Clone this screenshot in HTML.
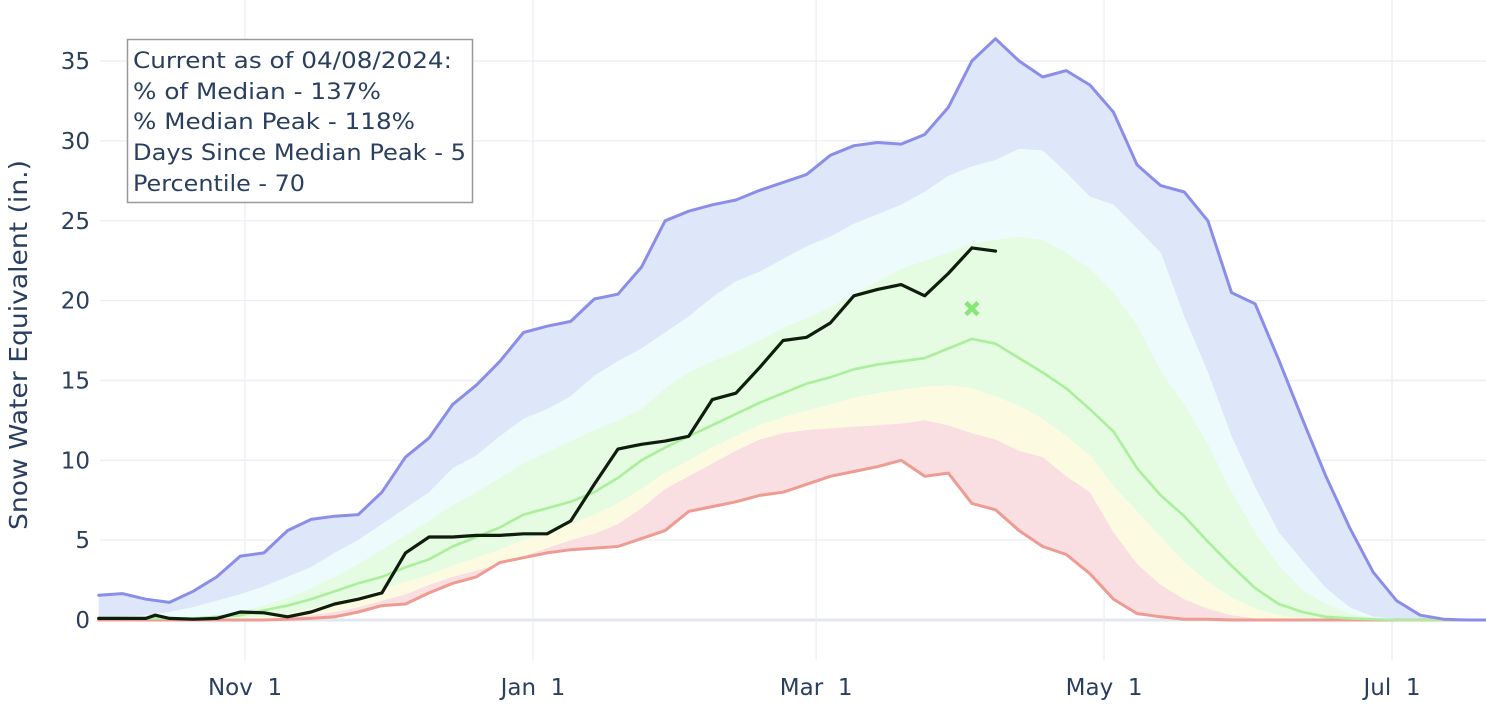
<!DOCTYPE html>
<html><head><meta charset="utf-8"><style>
html,body{margin:0;padding:0;background:#fff;}
svg{display:block;font-family:"DejaVu Sans","Liberation Sans",sans-serif;}
</style></head><body>
<svg id="chart" width="1486" height="714" viewBox="0 0 1486 714" xmlns="http://www.w3.org/2000/svg">
<g id="grid"></g>
<g id="bands"></g>
<g id="lines"></g>
<g id="axes"></g>
<text transform="translate(27,345) rotate(-90)" text-anchor="middle" font-size="25" fill="#2a3f5f" textLength="370" lengthAdjust="spacingAndGlyphs">Snow Water Equivalent (in.)</text>
<g>
<rect x="127.5" y="39.5" width="345" height="163" fill="#fff" fill-opacity="0.85" stroke="#999" stroke-width="1.5"/>
<g font-size="22" fill="#2a3f5f">
<text x="133" y="68" textLength="319" lengthAdjust="spacingAndGlyphs">Current as of 04/08/2024:</text>
<text x="133" y="99" textLength="248" lengthAdjust="spacingAndGlyphs">% of Median - 137%</text>
<text x="133" y="129" textLength="282" lengthAdjust="spacingAndGlyphs">% Median Peak - 118%</text>
<text x="133" y="160" textLength="333" lengthAdjust="spacingAndGlyphs">Days Since Median Peak - 5</text>
<text x="133" y="191" textLength="172" lengthAdjust="spacingAndGlyphs">Percentile - 70</text>
</g></g>
</svg>
<script>
const days=[0,5,10,15,20,25,30,35,40,45,50,55,60,65,70,75,80,85,90,95,100,105,110,115,120,125,130,135,140,145,150,155,160,165,170,175,180,185,190,195,200,205,210,215,220,225,230,235,240,245,250,255,260,265,270,275,280,285,290,295];
const maxVals=[1.55,1.65,1.3,1.1,1.8,2.7,4.0,4.2,5.6,6.3,6.5,6.6,8.0,10.2,11.4,13.5,14.7,16.2,18.0,18.4,18.7,20.1,20.4,22.1,25.0,25.6,26.0,26.3,26.9,27.4,27.9,29.1,29.7,29.9,29.8,30.4,32.1,35.0,36.4,35.0,34.0,34.4,33.5,31.8,28.5,27.2,26.8,25.0,20.5,19.8,16.3,12.6,9.0,5.8,3.0,1.2,0.3,0.05,0,0];
const p90Vals=[0.1,0.2,0.3,0.5,0.8,1.2,1.6,2.1,2.7,3.3,4.2,5.0,6.0,7.0,8.0,9.5,10.3,11.5,12.6,13.2,14.0,15.3,16.2,17.0,18.0,19.0,20.2,21.2,21.8,22.6,23.4,24.0,24.8,25.4,26.0,26.8,27.8,28.4,28.8,29.5,29.4,28.0,26.5,26.0,24.5,23.0,19.0,15.5,11.5,8.3,5.5,3.7,2.0,0.8,0.2,0.05,0,0,0,0];
const p70Vals=[0,0,0,0,0.1,0.3,0.5,0.9,1.4,2.0,2.7,3.5,4.4,5.3,6.2,7.2,8.0,8.9,9.8,10.5,11.2,11.9,12.5,13.2,14.5,15.5,16.2,16.8,17.5,18.3,18.9,19.6,20.4,21.2,22.0,22.5,23.0,23.6,23.8,24.0,23.8,23.0,22.0,20.5,18.5,15.6,13.5,11.0,8.0,5.5,3.4,1.9,1.0,0.4,0.1,0,0,0,0,0];
const medianVals=[0.1,0.1,0.1,0.1,0.1,0.2,0.3,0.6,0.9,1.3,1.8,2.3,2.7,3.3,3.8,4.6,5.2,5.8,6.6,7.0,7.4,8.0,8.9,10.0,10.8,11.5,12.2,12.9,13.6,14.2,14.8,15.2,15.7,16.0,16.2,16.4,17.0,17.6,17.3,16.4,15.5,14.5,13.2,11.8,9.5,7.8,6.5,4.9,3.4,2.0,1.0,0.5,0.2,0.1,0.05,0,0,0,0,0];
const p30Vals=[0,0,0,0,0,0,0.1,0.2,0.4,0.7,1.1,1.5,1.9,2.4,2.8,3.4,3.9,4.4,5.0,5.5,6.0,6.6,7.3,8.2,9.2,10.0,10.8,11.5,12.2,12.7,13.1,13.5,13.9,14.2,14.4,14.6,14.7,14.5,14.0,13.4,12.6,11.5,10.3,8.4,6.8,5.2,3.6,2.4,1.4,0.7,0.3,0.1,0,0,0,0,0,0,0,0];
const p10Vals=[0,0,0,0,0,0,0,0.05,0.15,0.3,0.5,0.8,1.2,1.6,2.2,2.7,3.1,3.5,4.0,4.5,5.0,5.4,6.0,7.0,8.2,9.0,9.8,10.6,11.3,11.7,11.9,12.0,12.1,12.2,12.3,12.5,12.2,11.7,11.3,10.6,10.2,9.0,8.0,5.5,3.5,2.2,1.3,0.7,0.3,0.1,0,0,0,0,0,0,0,0,0,0];
const minVals=[0,0,0,0,0,0,0,0,0.05,0.1,0.2,0.5,0.9,1.0,1.7,2.3,2.7,3.6,3.9,4.2,4.4,4.5,4.6,5.1,5.6,6.8,7.1,7.4,7.8,8.0,8.5,9.0,9.3,9.6,10.0,9.0,9.2,7.3,6.9,5.6,4.6,4.1,2.9,1.3,0.4,0.2,0.05,0.05,0,0,0,0,0,0,0,0,0,0,0,0];
const currentDays=[0,5,10,12,15,20,25,30,35,40,45,50,55,60,65,70,75,80,85,90,95,100,105,110,115,120,125,130,135,140,145,150,155,160,165,170,175,180,185,190];
const currentVals=[0.1,0.1,0.1,0.3,0.1,0.05,0.1,0.5,0.45,0.2,0.5,1.0,1.3,1.7,4.2,5.2,5.2,5.3,5.3,5.4,5.4,6.2,8.5,10.7,11.0,11.2,11.5,13.8,14.2,15.8,17.5,17.7,18.6,20.3,20.7,21.0,20.3,21.7,23.3,23.1];
const medianPeakDay=[185];
const medianPeakVal=[19.5];
const yTicks=[0,5,10,15,20,25,30,35];
const xTickDays=[31,92,152,213,274];
const xTickLabels=["Nov  1","Jan  1","Mar  1","May  1","Jul  1"];

const NS="http://www.w3.org/2000/svg";
const X0=98.7,XPD=4.72,Y0=620,YPU=15.97,PL=100,PR=1486;
function xs(d){return X0+d*XPD;}
function ys(v){return Y0-v*YPU;}
function mk(tag,attrs,parent){const e=document.createElementNS(NS,tag);for(const k in attrs)e.setAttribute(k,attrs[k]);parent.appendChild(e);return e;}
const grid=document.getElementById('grid'),bands=document.getElementById('bands'),lines=document.getElementById('lines'),axes=document.getElementById('axes');

yTicks.forEach(t=>{
  const l=mk('line',{x1:PL,x2:PR,y1:ys(t),y2:ys(t),stroke:t===0?'#e3e6ee':'#ebeef3','stroke-width':t===0?3:1.3},grid);
  
  
  const tx=mk('text',{x:90,y:ys(t)+8,'text-anchor':'end','font-size':23,fill:'#2a3f5f'},axes);
  tx.textContent=String(t);
  
  
});
xTickDays.forEach((d,i)=>{
  const l=mk('line',{x1:xs(d),x2:xs(d),y1:0,y2:660,stroke:'#ebeef3','stroke-width':1.3},grid);
  
  
  const tx=mk('text',{x:xs(d),y:695,'text-anchor':'middle','font-size':23,fill:'#2a3f5f'},axes);
  tx.setAttribute('xml:space','preserve');
  tx.style.whiteSpace='pre';
  tx.textContent=xTickLabels[i];
  
  
});

function linePts(ds,vs){return ds.map((d,i)=>xs(d).toFixed(1)+','+ys(vs[i]).toFixed(1));}
function band(upper,lower,fill,name){
  const top=linePts(days,upper);
  const bot=linePts(days,lower).reverse();
  const p=mk('polygon',{points:top.concat(bot).join(' '),fill:fill},bands);
  
  
}
band(maxVals,p90Vals,'#dde7f9','band-90-max');
band(p90Vals,p70Vals,'#eefbfc','band-70-90');
band(p70Vals,p30Vals,'#e5fbe2','band-30-70');
band(p30Vals,p10Vals,'#fcfbe2','band-10-30');
band(p10Vals,minVals,'#f9dfe1','band-min-10');

function pl(ds,vs,color,w,name){
  const p=mk('polyline',{points:linePts(ds,vs).join(' '),fill:'none',stroke:color,'stroke-width':w,'stroke-linejoin':'round','stroke-linecap':'round'},lines);
  
  
}
pl(days,minVals,'#ee9b92',3,'min-line');
pl(days,medianVals,'#aaef9b',2.6,'median-line');
pl(days,maxVals,'#8b8ee8',3,'max-line');
pl(currentDays,currentVals,'#0f1d0d',3.2,'current-year-line');

medianPeakDay.forEach((d,i)=>{
  const cx=xs(d),cy=ys(medianPeakVal[i]);
  const g=mk('g',{stroke:'#86e676','stroke-width':4.5,'stroke-linecap':'butt'},lines);
  
  
  mk('line',{x1:cx-6,y1:cy-6,x2:cx+6,y2:cy+6},g);
  mk('line',{x1:cx-6,y1:cy+6,x2:cx+6,y2:cy-6},g);
});
</script>
</body></html>
